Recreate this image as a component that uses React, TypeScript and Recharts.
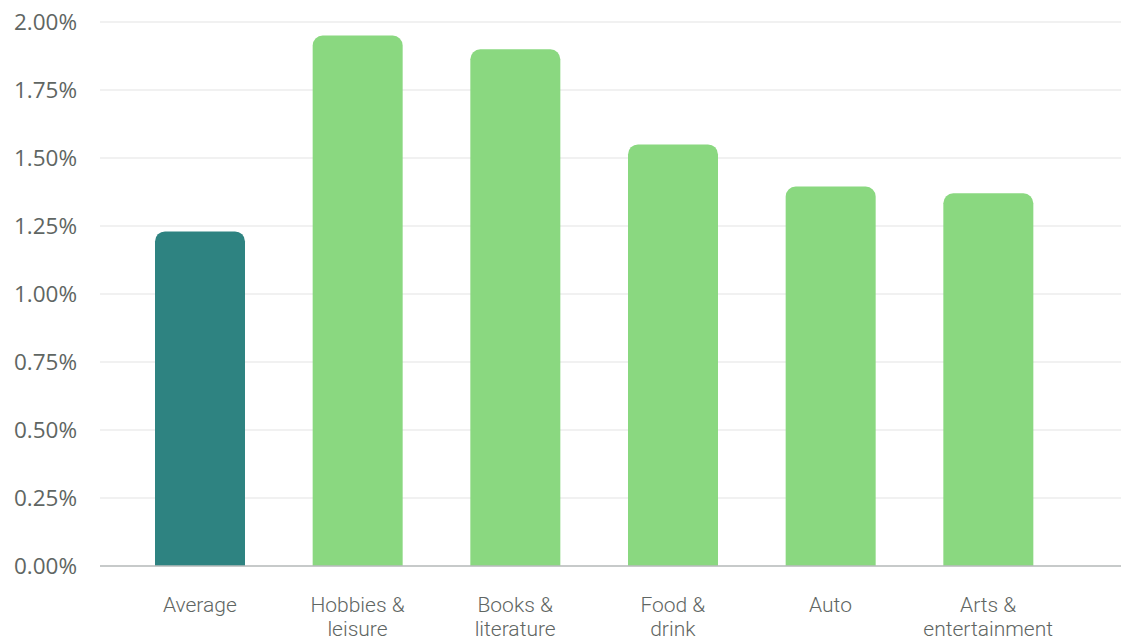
import React from "react";
import { Bar, BarChart, CartesianGrid, Cell, XAxis, YAxis } from "recharts";

const categories = [
  "Average",
  "Hobbies & leisure",
  "Books & literature",
  "Food & drink",
  "Auto",
  "Arts & entertainment",
];
const rates = [1.23, 1.95, 1.9, 1.55, 1.395, 1.37];
const yTicks = [0, 0.25, 0.5, 0.75, 1, 1.25, 1.5, 1.75, 2];

const TEAL = "#2e8381";
const GREEN = "#8ad880";
const LABEL = "#5f6663";

const data = categories.map((name, i) => ({ name, rate: rates[i] }));

function splitLabel(s: string): string[] {
  const idx = s.indexOf("& ");
  if (idx < 0) return [s];
  return [s.slice(0, idx + 1), s.slice(idx + 2)];
}

function CategoryTick(props: any) {
  const { x, y, payload } = props;
  const lines = splitLabel(payload.value);
  return (
    <text
      x={x}
      y={y}
      textAnchor="middle"
      fill={LABEL}
      fontSize={21}
      fontWeight={300}
      fontFamily="Roboto, sans-serif"
    >
      {lines.map((l, i) => (
        <tspan key={i} x={x} dy={i === 0 ? 38 : 24}>
          {l}
        </tspan>
      ))}
    </text>
  );
}

export default function App() {
  return (
    <div style={{ position: "absolute", left: 0, top: 0, background: "#fff" }}>
      <BarChart
        width={1121}
        height={642}
        data={data}
        margin={{ top: 22, right: 0, left: 0, bottom: 0 }}
        barSize={90}
      >
        <CartesianGrid vertical={false} stroke="#ececec" strokeWidth={1.5} />
        <XAxis
          dataKey="name"
          interval={0}
          tickLine={false}
          axisLine={{ stroke: "#b9bdbc", strokeWidth: 1.5 }}
          padding={{ left: 21, right: 54 }}
          tick={<CategoryTick />}
          height={76}
        />
        <YAxis
          width={100}
          domain={[0, 2]}
          ticks={yTicks}
          tickFormatter={(v: number) => `${v.toFixed(2)}%`}
          axisLine={false}
          tickLine={false}
          tickSize={0}
          tickMargin={23}
          tick={{ fill: LABEL, fontSize: 22.5, fontFamily: "'Open Sans', sans-serif" }}
        />
        <Bar dataKey="rate" radius={[10, 10, 0, 0]} isAnimationActive={false}>
          {data.map((_, i) => (
            <Cell key={i} fill={i === 0 ? TEAL : GREEN} />
          ))}
        </Bar>
      </BarChart>
    </div>
  );
}
